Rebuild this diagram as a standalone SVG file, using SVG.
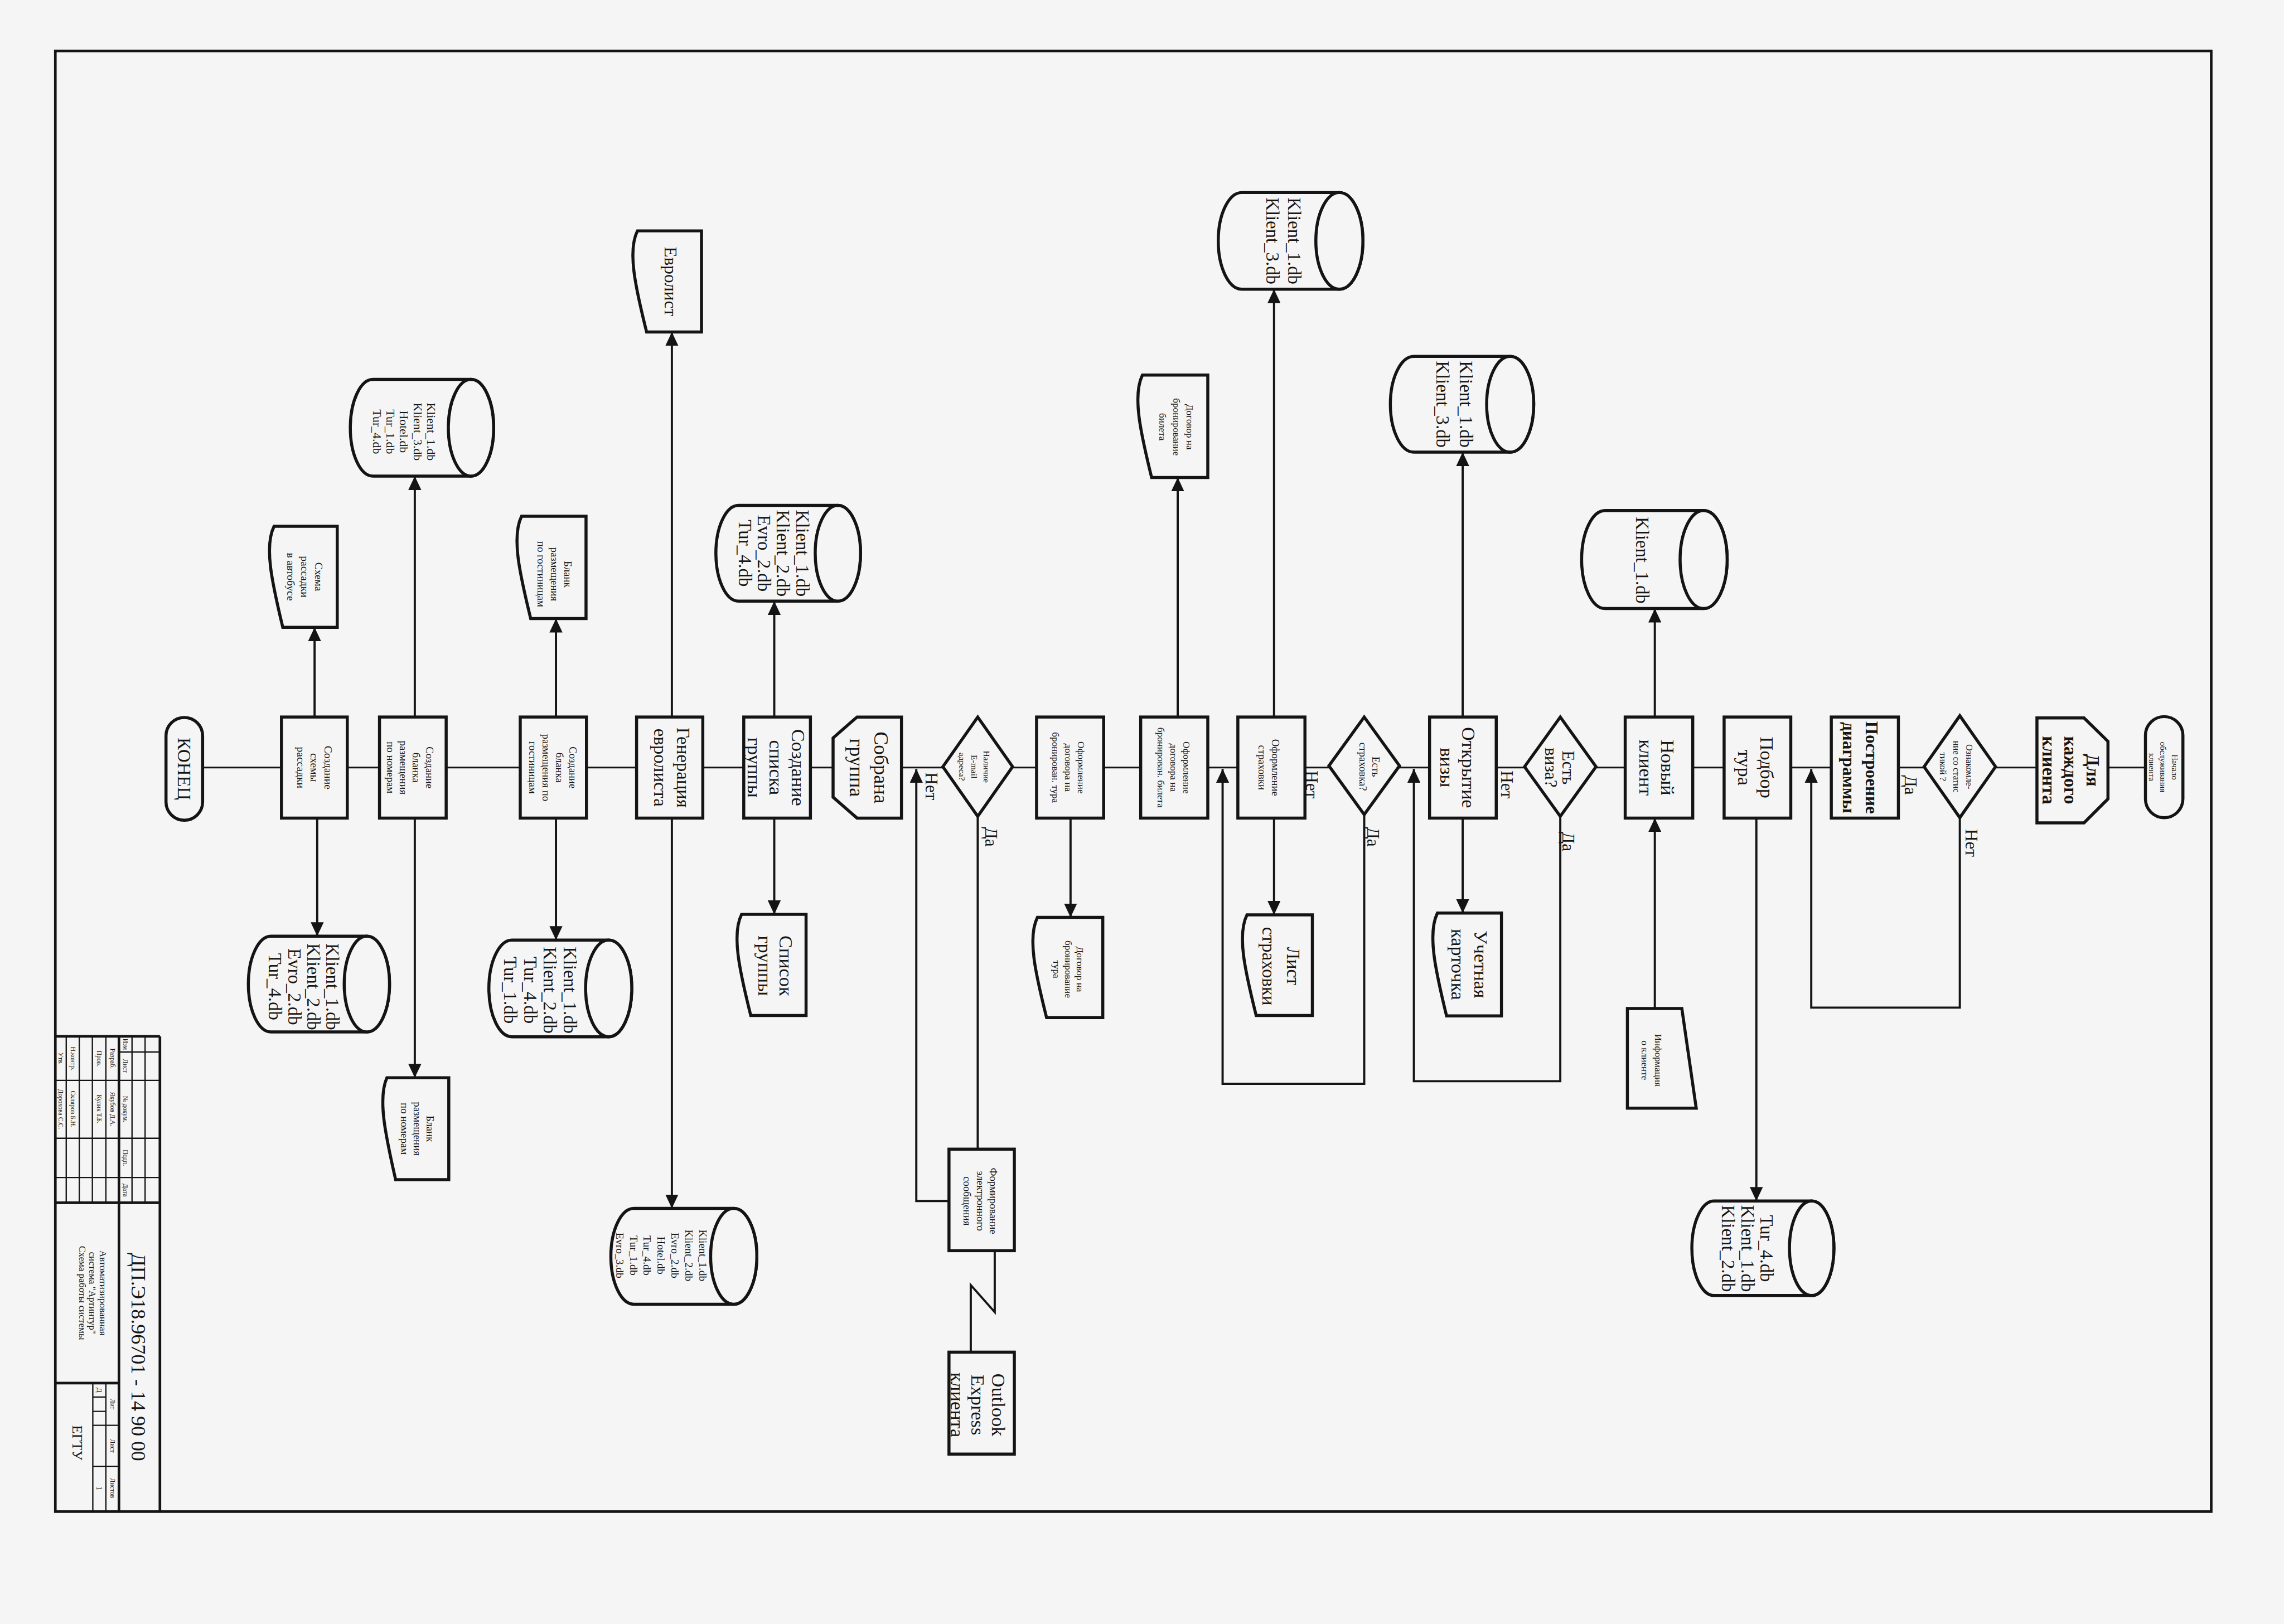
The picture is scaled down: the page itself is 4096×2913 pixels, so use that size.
<svg xmlns="http://www.w3.org/2000/svg" width="4096" height="2913" viewBox="0 0 4096 2913">
<defs>
<style>
.t{font-family:"Liberation Serif","DejaVu Serif",serif;fill:#161616;text-anchor:middle}
.b{font-weight:bold}
.n{fill:#f5f5f5;stroke:#141414;stroke-width:7}
.c{fill:none;stroke:#141414;stroke-width:5}
.a{fill:none;stroke:#141414;stroke-width:5;marker-end:url(#ah)}
.m{fill:none;stroke:#141414;stroke-width:4}
.s{fill:none;stroke:#141414;stroke-width:3}
.sk{fill:none;stroke:#141414;stroke-width:6}
</style>
<marker id="ah" markerUnits="userSpaceOnUse" markerWidth="32" markerHeight="30" viewBox="0 0 32 30" refX="32" refY="15" orient="auto"><path d="M0,0 L32,15 L0,30 Z" fill="#141414"/></marker>
</defs>
<rect x="0" y="0" width="4096" height="2913" fill="#f5f5f5"/>
<g transform="scale(0.78138)">
<rect x="127" y="117" width="4948" height="3353" fill="none" stroke="#141414" stroke-width="6"/>

<g id="connectors">
<path class="m" d="M465,1762 H4924"/>
<path class="a" d="M722,1646 V1440"/>
<path class="a" d="M728,1878 V2149"/>
<path class="a" d="M952,1646 V1093"/>
<path class="a" d="M952,1878 V2474"/>
<path class="a" d="M1276,1646 V1420"/>
<path class="a" d="M1276,1878 V2158"/>
<path class="a" d="M1542,1646 V762"/>
<path class="a" d="M1542,1878 V2774"/>
<path class="a" d="M1777,1646 V1380"/>
<path class="a" d="M1777,1878 V2099"/>
<path class="c" d="M2244,1872 V2638"/>
<path class="a" d="M2178,2757 H2103 V1765"/>
<path class="c" d="M2283,2871 V3012 L2228,2950 V3104"/>
<path class="a" d="M2457,1878 V2106"/>
<path class="a" d="M2703,1646 V1096"/>
<path class="a" d="M2924,1646 V664"/>
<path class="a" d="M2924,1878 V2100"/>
<path class="a" d="M3131,1868 V2488 H2806 V1765"/>
<path class="a" d="M3357,1646 V1038"/>
<path class="a" d="M3357,1878 V2096"/>
<path class="a" d="M3581,1873 V2482 H3245 V1765"/>
<path class="a" d="M3798,1646 V1397"/>
<path class="a" d="M3798,2315 V1878"/>
<path class="a" d="M4031,1878 V2757"/>
<path class="a" d="M4498,1877 V2313 H4157 V1765"/>
</g>

<g id="labels">
<text class="t" font-size="40" transform="translate(2138,1805) rotate(90)" y="14">Нет</text>
<text class="t" font-size="40" transform="translate(2275,1921) rotate(90)" y="14">Да</text>
<text class="t" font-size="40" transform="translate(3011,1801) rotate(90)" y="14">Нет</text>
<text class="t" font-size="40" transform="translate(3152,1921) rotate(90)" y="14">Да</text>
<text class="t" font-size="40" transform="translate(3459,1801) rotate(90)" y="14">Нет</text>
<text class="t" font-size="40" transform="translate(3600,1932) rotate(90)" y="14">Да</text>
<text class="t" font-size="40" transform="translate(4386,1802) rotate(90)" y="14">Да</text>
<text class="t" font-size="40" transform="translate(4525,1935) rotate(90)" y="14">Нет</text>
</g>

<g id="n_end"><rect class="n" x="381" y="1647" width="84" height="236" rx="42"/>
<text class="t" font-size="42" transform="translate(423,1765) rotate(90)"><tspan x="0" y="14.7">КОНЕЦ</tspan></text></g>

<g id="n_scheme"><rect class="n" x="646" y="1646" width="151" height="232"/>
<text class="t" font-size="25" transform="translate(722,1762) rotate(90)"><tspan x="0" y="-22.3">Создание</tspan><tspan x="0" y="8.8">схемы</tspan><tspan x="0" y="39.8">рассадки</tspan></text></g>

<g id="d_scheme"><path class="n" d="M774,1208 H629 C606,1254 624,1336 649,1440 H774 Z"/>
<text class="t" font-size="25" transform="translate(700,1324) rotate(90)"><tspan x="0" y="-23.3">Схема</tspan><tspan x="0" y="8.8">рассадки</tspan><tspan x="0" y="40.8">в автобусе</tspan></text></g>

<g id="db1"><path class="n" d="M622,2149 H842 A52,110 0 0 1 842,2369 H622 A52,110 0 0 1 622,2149 Z"/><ellipse class="n" cx="842" cy="2259" rx="52" ry="110"/>
<text class="t" font-size="42" transform="translate(698,2265) rotate(90)"><tspan x="0" y="-51.3">Klient_1.db</tspan><tspan x="0" y="-7.3">Klient_2.db</tspan><tspan x="0" y="36.7">Evro_2.db</tspan><tspan x="0" y="80.7">Tur_4.db</tspan></text></g>

<g id="n_nomer"><rect class="n" x="871" y="1646" width="153" height="232"/>
<text class="t" font-size="24" transform="translate(941,1762) rotate(90)"><tspan x="0" y="-36.6">Создание</tspan><tspan x="0" y="-6.6">бланка</tspan><tspan x="0" y="23.4">размещения</tspan><tspan x="0" y="53.4">по номерам</tspan></text></g>

<g id="db2"><path class="n" d="M856,871 H1081 A52,111 0 0 1 1081,1093 H856 A52,111 0 0 1 856,871 Z"/><ellipse class="n" cx="1081" cy="982" rx="52" ry="111"/>
<text class="t" font-size="28" transform="translate(928,991) rotate(90)"><tspan x="0" y="-52.2">Klient_1.db</tspan><tspan x="0" y="-21.2">Klient_3.db</tspan><tspan x="0" y="9.8">Hotel.db</tspan><tspan x="0" y="40.8">Tur_1.db</tspan><tspan x="0" y="71.8">Tur_4.db</tspan></text></g>

<g id="d_nomer"><path class="n" d="M1030,2474 H888 C867,2521 884,2603 908,2708 H1030 Z"/>
<text class="t" font-size="24" transform="translate(958,2591) rotate(90)"><tspan x="0" y="-21.6">Бланк</tspan><tspan x="0" y="8.4">размещения</tspan><tspan x="0" y="38.4">по номерам</tspan></text></g>

<g id="n_gost"><rect class="n" x="1194" y="1646" width="152" height="232"/>
<text class="t" font-size="24" transform="translate(1269,1762) rotate(90)"><tspan x="0" y="-38.1">Создание</tspan><tspan x="0" y="-7.1">бланка</tspan><tspan x="0" y="23.9">размещения по</tspan><tspan x="0" y="54.9">гостиницам</tspan></text></g>

<g id="d_gost"><path class="n" d="M1345,1185 H1197 C1174,1232 1192,1314 1218,1420 H1345 Z"/>
<text class="t" font-size="24" transform="translate(1273,1318) rotate(90)"><tspan x="0" y="-22.6">Бланк</tspan><tspan x="0" y="8.4">размещения</tspan><tspan x="0" y="39.4">по гостиницам</tspan></text></g>

<g id="db3"><path class="n" d="M1175,2158 H1397 A53,111 0 0 1 1397,2380 H1175 A53,111 0 0 1 1175,2158 Z"/><ellipse class="n" cx="1397" cy="2269" rx="53" ry="111"/>
<text class="t" font-size="42" transform="translate(1240,2273) rotate(90)"><tspan x="0" y="-53.9">Klient_1.db</tspan><tspan x="0" y="-8.2">Klient_2.db</tspan><tspan x="0" y="37.6">Tur_4.db</tspan><tspan x="0" y="83.3">Tur_1.db</tspan></text></g>

<g id="n_evro"><rect class="n" x="1461" y="1646" width="152" height="232"/>
<text class="t" font-size="42" transform="translate(1542,1762) rotate(90)"><tspan x="0" y="-11.8">Генерация</tspan><tspan x="0" y="41.2">евролиста</tspan></text></g>

<g id="d_evro"><path class="n" d="M1610,530 H1463 C1440,576 1458,658 1484,762 H1610 Z"/>
<text class="t" font-size="40" transform="translate(1540,646) rotate(90)"><tspan x="0" y="14">Евролист</tspan></text></g>

<g id="db4"><path class="n" d="M1455,2774 H1684 A53,110 0 0 1 1684,2994 H1455 A53,110 0 0 1 1455,2774 Z"/><ellipse class="n" cx="1684" cy="2884" rx="53" ry="110"/>
<text class="t" font-size="25" transform="translate(1518,2882) rotate(90)"><tspan x="0" y="-86.7">Klient_1.db</tspan><tspan x="0" y="-54.9">Klient_2.db</tspan><tspan x="0" y="-23.1">Evro_2.db</tspan><tspan x="0" y="8.8">Hotel.db</tspan><tspan x="0" y="40.6">Tur_4.db</tspan><tspan x="0" y="72.4">Tur_1.db</tspan><tspan x="0" y="104.2">Evro_3.db</tspan></text></g>

<g id="n_spisok"><rect class="n" x="1707" y="1646" width="153" height="232"/>
<text class="t" font-size="44" transform="translate(1782,1762) rotate(90)"><tspan x="0" y="-35.6">Создание</tspan><tspan x="0" y="15.4">списка</tspan><tspan x="0" y="66.4">группы</tspan></text></g>

<g id="db5"><path class="n" d="M1695,1160 H1923 A52,110 0 0 1 1923,1380 H1695 A52,110 0 0 1 1695,1160 Z"/><ellipse class="n" cx="1923" cy="1270" rx="52" ry="110"/>
<text class="t" font-size="42" transform="translate(1776,1270) rotate(90)"><tspan x="0" y="-51.3">Klient_1.db</tspan><tspan x="0" y="-7.3">Klient_2.db</tspan><tspan x="0" y="36.7">Evro_2.db</tspan><tspan x="0" y="80.7">Tur_4.db</tspan></text></g>

<g id="d_spisok"><path class="n" d="M1850,2099 H1702 C1679,2145 1697,2227 1723,2331 H1850 Z"/>
<text class="t" font-size="44" transform="translate(1780,2217) rotate(90)"><tspan x="0" y="-8.6">Список</tspan><tspan x="0" y="39.4">группы</tspan></text></g>

<g id="n_sobrana"><polygon class="n" points="1967,1646 2069,1646 2069,1878 1967,1878 1912,1830 1912,1694"/>
<text class="t" font-size="46" transform="translate(1995,1762) rotate(90)"><tspan x="0" y="-11.9">Собрана</tspan><tspan x="0" y="44.1">группа</tspan></text></g>

<g id="q_email"><polygon class="n" points="2164,1760 2244,1646 2324,1760 2244,1874"/>
<text class="t" font-size="20" transform="translate(2236,1760) rotate(90)"><tspan x="0" y="-21">Наличие</tspan><tspan x="0" y="7">E-mail</tspan><tspan x="0" y="35">адреса?</tspan></text></g>

<g id="n_form"><rect class="n" x="2178" y="2638" width="150" height="233"/>
<text class="t" font-size="24" transform="translate(2250,2757) rotate(90)"><tspan x="0" y="-21.6">Формирование</tspan><tspan x="0" y="8.4">электронного</tspan><tspan x="0" y="38.4">сообщения</tspan></text></g>

<g id="n_outlook"><rect class="n" x="2178" y="3104" width="150" height="234"/>
<text class="t" font-size="44" transform="translate(2245,3225) rotate(90)"><tspan x="0" y="-31.6">Outlook</tspan><tspan x="0" y="15.4">Express</tspan><tspan x="0" y="62.4">клиента</tspan></text></g>

<g id="n_tur"><rect class="n" x="2379" y="1646" width="154" height="232"/>
<text class="t" font-size="22" transform="translate(2452,1762) rotate(90)"><tspan x="0" y="-21.3">Оформление</tspan><tspan x="0" y="7.7">договора на</tspan><tspan x="0" y="36.7">бронирован. тура</tspan></text></g>

<g id="d_tur"><path class="n" d="M2531,2106 H2381 C2358,2152 2376,2233 2402,2336 H2531 Z"/>
<text class="t" font-size="22" transform="translate(2452,2225) rotate(90)"><tspan x="0" y="-19.3">Договор на</tspan><tspan x="0" y="7.7">бронирование</tspan><tspan x="0" y="34.7">тура</tspan></text></g>

<g id="n_bilet"><rect class="n" x="2618" y="1646" width="154" height="232"/>
<text class="t" font-size="22" transform="translate(2694,1762) rotate(90)"><tspan x="0" y="-22.3">Оформление</tspan><tspan x="0" y="7.7">договора на</tspan><tspan x="0" y="37.7">бронирован. билета</tspan></text></g>

<g id="d_bilet"><path class="n" d="M2772,861 H2622 C2599,908 2617,990 2643,1096 H2772 Z"/>
<text class="t" font-size="22" transform="translate(2700,980) rotate(90)"><tspan x="0" y="-23.3">Договор на</tspan><tspan x="0" y="7.7">бронирование</tspan><tspan x="0" y="38.7">билета</tspan></text></g>

<g id="n_strah"><rect class="n" x="2841" y="1646" width="154" height="232"/>
<text class="t" font-size="24" transform="translate(2912,1762) rotate(90)"><tspan x="0" y="-7.1">Оформление</tspan><tspan x="0" y="23.9">страховки</tspan></text></g>

<g id="d_strah"><path class="n" d="M3012,2100 H2862 C2839,2146 2857,2227 2883,2331 H3012 Z"/>
<text class="t" font-size="42" transform="translate(2940,2218) rotate(90)"><tspan x="0" y="-13.3">Лист</tspan><tspan x="0" y="42.7">страховки</tspan></text></g>

<g id="db6"><path class="n" d="M2850,442 H3074 A54,111 0 0 1 3074,664 H2850 A54,111 0 0 1 2850,442 Z"/><ellipse class="n" cx="3074" cy="553" rx="54" ry="111"/>
<text class="t" font-size="42" transform="translate(2946,553) rotate(90)"><tspan x="0" y="-10.8">Klient_1.db</tspan><tspan x="0" y="40.2">Klient_3.db</tspan></text></g>

<g id="q_strah"><polygon class="n" points="3050,1758 3131,1646 3212,1758 3131,1870"/>
<text class="t" font-size="24" transform="translate(3143,1760) rotate(90)"><tspan x="0" y="-6.6">Есть</tspan><tspan x="0" y="23.4">страховка?</tspan></text></g>

<g id="n_viza"><rect class="n" x="3281" y="1646" width="153" height="232"/>
<text class="t" font-size="44" transform="translate(3346,1762) rotate(90)"><tspan x="0" y="-10.1">Открытие</tspan><tspan x="0" y="40.9">визы</tspan></text></g>

<g id="db7"><path class="n" d="M3245,818 H3466 A54,110 0 0 1 3466,1038 H3245 A54,110 0 0 1 3245,818 Z"/><ellipse class="n" cx="3466" cy="928" rx="54" ry="110"/>
<text class="t" font-size="42" transform="translate(3338,928) rotate(90)"><tspan x="0" y="-12.3">Klient_1.db</tspan><tspan x="0" y="41.7">Klient_3.db</tspan></text></g>

<g id="d_viza"><path class="n" d="M3446,2096 H3299 C3276,2143 3294,2226 3320,2332 H3446 Z"/>
<text class="t" font-size="44" transform="translate(3373,2214) rotate(90)"><tspan x="0" y="-11.1">Учетная</tspan><tspan x="0" y="41.9">карточка</tspan></text></g>

<g id="q_viza"><polygon class="n" points="3499,1760 3581,1646 3663,1760 3581,1874"/>
<text class="t" font-size="40" transform="translate(3580,1762) rotate(90)"><tspan x="0" y="-5.5">Есть</tspan><tspan x="0" y="33.5">виза?</tspan></text></g>

<g id="n_new"><rect class="n" x="3730" y="1646" width="155" height="232"/>
<text class="t" font-size="44" transform="translate(3803,1762) rotate(90)"><tspan x="0" y="-9.1">Новый</tspan><tspan x="0" y="39.9">клиент</tspan></text></g>

<g id="db8"><path class="n" d="M3684,1172 H3910 A54,112.5 0 0 1 3910,1397 H3684 A54,112.5 0 0 1 3684,1172 Z"/><ellipse class="n" cx="3910" cy="1284.5" rx="54" ry="112.5"/>
<text class="t" font-size="42" transform="translate(3770,1286) rotate(90)"><tspan x="0" y="14.7">Klient_1.db</tspan></text></g>

<g id="i_info"><polygon class="n" points="3735,2315 3860,2315 3893,2544 3735,2544"/>
<text class="t" font-size="22" transform="translate(3791,2434) rotate(90)"><tspan x="0" y="-7.3">Информация</tspan><tspan x="0" y="22.7">о клиенте</tspan></text></g>

<g id="n_podbor"><rect class="n" x="3957" y="1646" width="153" height="232"/>
<text class="t" font-size="44" transform="translate(4030,1762) rotate(90)"><tspan x="0" y="-10.1">Подбор</tspan><tspan x="0" y="40.9">тура</tspan></text></g>

<g id="db9"><path class="n" d="M3934,2757 H4158 A51,108.5 0 0 1 4158,2974 H3934 A51,108.5 0 0 1 3934,2757 Z"/><ellipse class="n" cx="4158" cy="2865.5" rx="51" ry="108.5"/>
<text class="t" font-size="42" transform="translate(4011,2866) rotate(90)"><tspan x="0" y="-29.8">Tur_4.db</tspan><tspan x="0" y="14.7">Klient_1.db</tspan><tspan x="0" y="59.2">Klient_2.db</tspan></text></g>

<g id="n_diagr"><rect class="n" x="4203" y="1646" width="154" height="232"/>
<text class="t b" font-size="40" transform="translate(4270,1762) rotate(90)"><tspan x="0" y="-12.5">Построение</tspan><tspan x="0" y="40.5">диаграммы</tspan></text></g>

<g id="q_stat"><polygon class="n" points="4416,1760 4498,1643 4580,1760 4498,1877"/>
<text class="t" font-size="21" transform="translate(4490,1760) rotate(90)"><tspan x="0" y="-22.65">Ознакомле-</tspan><tspan x="0" y="7.35">ние со статис</tspan><tspan x="0" y="37.35">тикой ?</tspan></text></g>

<g id="n_each"><polygon class="n" points="4675,1648 4783,1648 4838,1702 4838,1834 4783,1889 4675,1889"/>
<text class="t b" font-size="42" transform="translate(4753,1768) rotate(90)"><tspan x="0" y="-36.3">Для</tspan><tspan x="0" y="14.7">каждого</tspan><tspan x="0" y="65.7">клиента</tspan></text></g>

<g id="n_start"><rect class="n" x="4924" y="1645" width="86" height="232" rx="43"/>
<text class="t" font-size="19" transform="translate(4965,1761) rotate(90)"><tspan x="0" y="-19.35">Начало</tspan><tspan x="0" y="6.65">обслуживания</tspan><tspan x="0" y="32.65">клиента</tspan></text></g>

<g id="stamp">
<path class="sk" d="M367,2379 V3470 M127,2379 H367 M127,2761 H367 M273,2379 V3470 M127,3175 H273"/>
<path class="s" d="M152,2379 V2761 M182,2379 V2761 M212,2379 V2761 M243,2379 V2761 M303,2379 V2761 M333,2379 V2761 M273,2415 H367 M127,2480 H367 M127,2613 H367 M127,2703 H367 M213,3175 V3470 M243,3175 V3470 M213,3272 H273 M213,3366 H273 M213,3207 H243 M213,3240 H243"/>
<text class="t" font-size="15" transform="translate(288,2397) rotate(90)" y="5">Изм</text>
<text class="t" font-size="15" transform="translate(288,2447) rotate(90)" y="5">Лист</text>
<text class="t" font-size="15" transform="translate(288,2546) rotate(90)" y="5">№ докум.</text>
<text class="t" font-size="15" transform="translate(288,2658) rotate(90)" y="5">Подп.</text>
<text class="t" font-size="15" transform="translate(288,2732) rotate(90)" y="5">Дата</text>
<text class="t" font-size="15" transform="translate(258,2430) rotate(90)" y="5">Разраб.</text>
<text class="t" font-size="15" transform="translate(258,2546) rotate(90)" y="5">Якубов Д.А.</text>
<text class="t" font-size="15" transform="translate(228,2430) rotate(90)" y="5">Пров.</text>
<text class="t" font-size="15" transform="translate(228,2546) rotate(90)" y="5">Кулик Т.Б.</text>
<text class="t" font-size="15" transform="translate(167,2430) rotate(90)" y="5">Н.контр.</text>
<text class="t" font-size="15" transform="translate(167,2546) rotate(90)" y="5">Скляров Б.Н.</text>
<text class="t" font-size="15" transform="translate(140,2430) rotate(90)" y="5">Утв.</text>
<text class="t" font-size="15" transform="translate(140,2546) rotate(90)" y="5">Дорохова С.С.</text>
<text class="t" font-size="46" transform="translate(318,3115) rotate(90)" y="16">ДП.Э18.96701 - 14 90 00</text>
<text class="t" font-size="22" transform="translate(213,2968) rotate(90)"><tspan x="0" y="-15.8">Автоматизированная</tspan><tspan x="0" y="7.7">система "Артинтур"</tspan><tspan x="0" y="31.2">Схема работы системы</tspan></text>
<text class="t" font-size="15" transform="translate(258,3223) rotate(90)" y="5">Лит</text>
<text class="t" font-size="15" transform="translate(258,3319) rotate(90)" y="5">Лист</text>
<text class="t" font-size="15" transform="translate(258,3416) rotate(90)" y="5">Листов</text>
<text class="t" font-size="16" transform="translate(228,3191) rotate(90)" y="5.6">Д</text>
<text class="t" font-size="18" transform="translate(228,3416) rotate(90)" y="6.3">1</text>
<text class="t" font-size="32" transform="translate(178,3312) rotate(90)" y="11">ЕГТУ</text>
</g>
</g>
</svg>
